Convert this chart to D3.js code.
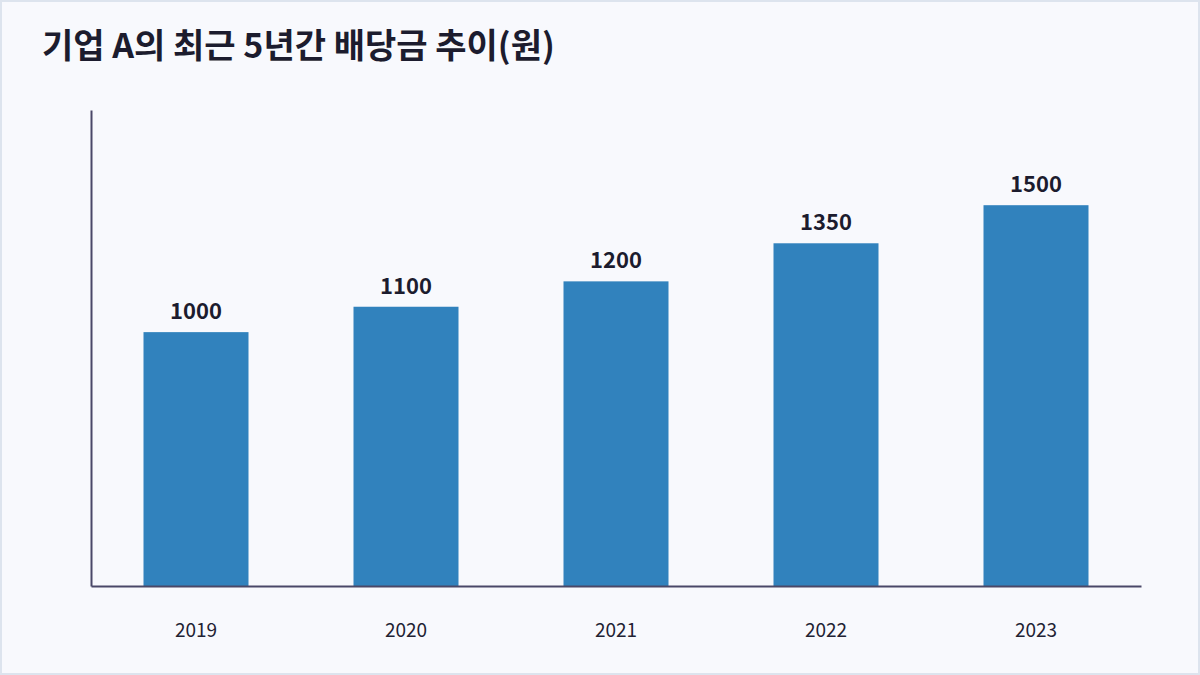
<!DOCTYPE html>
<html><head><meta charset="utf-8">
<script src="https://cdn.jsdelivr.net/npm/d3@7"></script>
<style>
html,body{margin:0;padding:0;background:#f8f9fd;}
svg{display:block;font-family:"Noto Sans CJK KR","Noto Sans",sans-serif;}
</style></head>
<body>
<svg id="chart" width="1200" height="675"></svg>
<script>
const years = ["2019","2020","2021","2022","2023"];
const dividends = [1000,1100,1200,1350,1500];
const title = "기업 A의 최근 5년간 배당금 추이(원)";

const svg = d3.select("#chart");
const W = 1200, H = 675;
const m = {left:91, right:59, top:110, bottom:89};

svg.append("rect").attr("x",1).attr("y",1).attr("width",W-2).attr("height",H-2)
  .attr("fill","#f8f9fd").attr("stroke","#dde4ee").attr("stroke-width",2);

svg.append("text").attr("x",42).attr("y",58).text(title)
  .attr("font-size",34).attr("font-weight",700).attr("fill","#1c1c2e");

const x = d3.scaleBand().domain(years).range([m.left, W-m.right])
  .paddingInner(0.5).paddingOuter(0.25);
const y = d3.scaleLinear().domain([0, d3.max(dividends)*1.25]).range([H-m.bottom, m.top]);

const g = svg.append("g");
g.selectAll("rect.bar").data(years).join("rect").attr("class","bar")
  .attr("x",d=>x(d)).attr("width",x.bandwidth())
  .attr("y",(d,i)=>y(dividends[i])).attr("height",(d,i)=>y(0)-y(dividends[i]))
  .attr("fill","#3182bd");

g.selectAll("text.val").data(years).join("text").attr("class","val")
  .attr("x",d=>x(d)+x.bandwidth()/2).attr("y",(d,i)=>y(dividends[i])-13)
  .attr("text-anchor","middle").attr("font-size",22).attr("font-weight",700)
  .attr("fill","#1c1c2e").text((d,i)=>dividends[i]);

const xa = svg.append("g").attr("transform",`translate(0,${y(0)})`)
  .call(d3.axisBottom(x).tickSize(0).tickPadding(38));
xa.select(".domain").attr("stroke","#4a4868").attr("stroke-width",2);
xa.selectAll("text").attr("font-size",19).attr("fill","#222233")
  .attr("font-family","\"Noto Sans CJK KR\",\"Noto Sans\",sans-serif");

const ya = svg.append("g").attr("transform",`translate(${m.left},0)`)
  .call(d3.axisLeft(y).tickSize(0).tickValues([]));
ya.select(".domain").attr("stroke","#4a4868").attr("stroke-width",2);
</script>
</body></html>
